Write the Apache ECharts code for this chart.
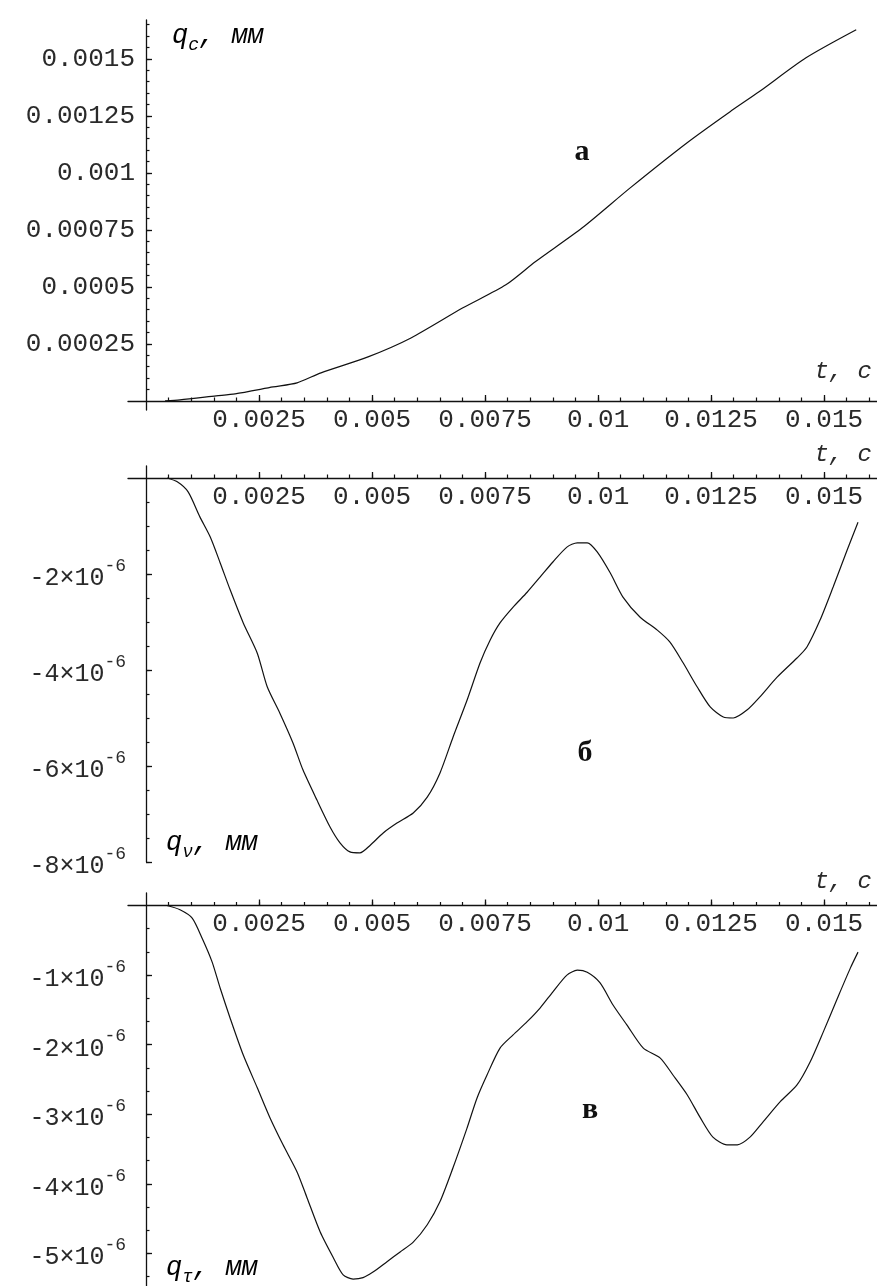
<!DOCTYPE html>
<html><head><meta charset="utf-8">
<script src="https://cdn.jsdelivr.net/npm/echarts@6/dist/echarts.min.js"></script>
<style>html,body{margin:0;padding:0;background:#fff}#c{width:877px;height:1286px}</style>
</head><body><div id="c"></div>
<script>
// ---- data: panel а (q_c, mm) ----
const tA = [0.00042,0.00075,0.00155,0.00197,0.00281,0.00334,0.00387,0.00491,0.00586,0.00701,0.00796,0.00861,0.00965,0.01071,0.01197,0.01292,0.01356,0.0146,0.01571];
const qc = [0,0.0000044,0.000022,0.000031,0.000061,0.000079,0.000123,0.000193,0.000276,0.000408,0.000509,0.000610,0.000759,0.000934,0.001132,0.001268,0.001355,0.001504,0.001627];
// ---- data: panel б (q_nu, mm) ----
const tB = [0.00046,0.00069,0.00093,0.00119,0.00142,0.00164,0.00186,0.00215,0.00246,0.00268,0.00296,0.00325,0.00347,0.00378,0.00407,0.00429,0.00451,0.00473,0.00496,0.00524,0.00555,0.00591,0.00622,0.00650,0.00679,0.00710,0.00739,0.00761,0.00783,0.00812,0.00843,0.00872,0.00900,0.00931,0.00954,0.00976,0.00998,0.01027,0.01055,0.01093,0.01131,0.01159,0.01188,0.01219,0.01248,0.01277,0.01299,0.01330,0.01358,0.01396,0.01440,0.01462,0.01491,0.01520,0.01551,0.01575];
const qv = [0,-0.08e-6,-0.29e-6,-0.81e-6,-1.23e-6,-1.77e-6,-2.33e-6,-3.02e-6,-3.65e-6,-4.35e-6,-4.90e-6,-5.52e-6,-6.08e-6,-6.71e-6,-7.27e-6,-7.60e-6,-7.79e-6,-7.81e-6,-7.65e-6,-7.40e-6,-7.19e-6,-6.98e-6,-6.65e-6,-6.15e-6,-5.40e-6,-4.63e-6,-3.85e-6,-3.38e-6,-3.02e-6,-2.69e-6,-2.38e-6,-2.06e-6,-1.75e-6,-1.44e-6,-1.35e-6,-1.35e-6,-1.54e-6,-1.98e-6,-2.48e-6,-2.90e-6,-3.17e-6,-3.42e-6,-3.85e-6,-4.35e-6,-4.77e-6,-4.98e-6,-5.00e-6,-4.83e-6,-4.56e-6,-4.15e-6,-3.75e-6,-3.52e-6,-2.96e-6,-2.27e-6,-1.50e-6,-0.92e-6];
// ---- data: panel в (q_tau, mm) ----
const tC = [0.00046,0.00075,0.00102,0.00124,0.00146,0.00164,0.00186,0.00215,0.00246,0.00274,0.00303,0.00334,0.00356,0.00385,0.00414,0.00436,0.00458,0.00480,0.00502,0.00533,0.00562,0.00591,0.00622,0.00650,0.00679,0.00710,0.00732,0.00754,0.00783,0.00812,0.00843,0.00872,0.00900,0.00931,0.00954,0.00976,0.01004,0.01033,0.01064,0.01100,0.01137,0.01166,0.01197,0.01226,0.01254,0.01285,0.01308,0.01336,0.01365,0.01403,0.01440,0.01469,0.01498,0.01529,0.01558,0.01575];
const qt = [0,-0.06e-6,-0.18e-6,-0.47e-6,-0.81e-6,-1.19e-6,-1.62e-6,-2.15e-6,-2.62e-6,-3.05e-6,-3.44e-6,-3.83e-6,-4.20e-6,-4.69e-6,-5.06e-6,-5.31e-6,-5.37e-6,-5.35e-6,-5.27e-6,-5.12e-6,-4.98e-6,-4.84e-6,-4.59e-6,-4.26e-6,-3.77e-6,-3.20e-6,-2.77e-6,-2.44e-6,-2.05e-6,-1.86e-6,-1.67e-6,-1.47e-6,-1.24e-6,-1.00e-6,-0.93e-6,-0.96e-6,-1.11e-6,-1.43e-6,-1.72e-6,-2.05e-6,-2.19e-6,-2.44e-6,-2.72e-6,-3.05e-6,-3.33e-6,-3.44e-6,-3.44e-6,-3.33e-6,-3.11e-6,-2.82e-6,-2.58e-6,-2.25e-6,-1.82e-6,-1.34e-6,-0.90e-6,-0.67e-6];

// ---- tick labels ----
const xTickVals = [0.0025,0.005,0.0075,0.01,0.0125,0.015];
const xTickLabels = ['0.0025','0.005','0.0075','0.01','0.0125','0.015'];
const yTickValsA = [0.00025,0.0005,0.00075,0.001,0.00125,0.0015];
const yTickLabelsA = ['0.00025','0.0005','0.00075','0.001','0.00125','0.0015'];
const yTickValsB = [-2e-6,-4e-6,-6e-6,-8e-6];
const yTickMantB = ['-2','-4','-6','-8'];
const yTickValsC = [-1e-6,-2e-6,-3e-6,-4e-6,-5e-6];
const yTickMantC = ['-1','-2','-3','-4','-5'];

// minor tick positions
const xMinor = []; for (let i = 1; i <= 32; i++) xMinor.push(i * 0.0005);
const yMinorA = []; for (let i = 1; i <= 33; i++) yMinorA.push(i * 0.00005);
const yMinorB = []; for (let i = 1; i <= 16; i++) yMinorB.push(-i * 0.5e-6);
const yMinorC = []; for (let i = 1; i <= 16; i++) yMinorC.push(-i * 1e-6 / 3);

const INK = '#111', TXT = '#2a2a2a', MONO = 'Liberation Mono';
function pick(vals, labels) {
  return function (v) {
    for (let i = 0; i < vals.length; i++) if (Math.abs(vals[i] - v) < Math.abs(vals[i]) * 1e-6 + 1e-15) return labels[i];
    return '';
  };
}

const grids = [
  {left: 128, top: 20, width: 749, height: 390},
  {left: 128, top: 466, width: 749, height: 396},
  {left: 128, top: 893, width: 749, height: 393}
];
const yRanges = [[-0.00004, 0.00167], [-8e-6, 0.25e-6], [-5.47e-6, 0.18e-6]];
const xRange = [-0.0004, 0.01617];
// axis placement (where t=0 / q=0 falls inside each grid)
const xPos = ['bottom', 'top', 'top'];
const xOffset = [-9, -12, -12.5];
const yOffset = -18;

const xAxes = [], yAxes = [];
for (let g = 0; g < 3; g++) {
  const top = xPos[g] === 'top';
  xAxes.push({
    type: 'value', gridIndex: g, position: xPos[g], offset: xOffset[g], min: xRange[0], max: xRange[1],
    axisLine: {show: true, onZero: false, lineStyle: {color: INK, width: 1.3}},
    axisTick: {show: true, inside: !top, length: 6, customValues: xTickVals, lineStyle: {color: INK, width: 1.3}},
    axisLabel: {show: true, inside: top, customValues: xTickVals, margin: 6, formatter: pick(xTickVals, xTickLabels),
      fontFamily: MONO, fontSize: 26, color: TXT},
    splitLine: {show: false}
  });
  xAxes.push({
    type: 'value', gridIndex: g, position: xPos[g], offset: xOffset[g], min: xRange[0], max: xRange[1],
    axisLine: {show: false, onZero: false},
    axisTick: {show: true, inside: !top, length: 3.5, customValues: xMinor, lineStyle: {color: INK, width: 1.2}},
    axisLabel: {show: false}, splitLine: {show: false}
  });
}
// y axes
const yMinors = [yMinorA, yMinorB, yMinorC];
const richLab = {
  m: {fontFamily: MONO, fontSize: 25, color: TXT, verticalAlign: 'bottom'},
  e: {fontFamily: MONO, fontSize: 18, color: TXT, verticalAlign: 'bottom', padding: [0, 0, 16, 0]}
};
const yLabelCfg = [
  {customValues: yTickValsA, margin: 11, formatter: pick(yTickValsA, yTickLabelsA), fontFamily: MONO, fontSize: 26, color: TXT},
  {customValues: yTickValsB, margin: 20, formatter: function (v) { return '{m|' + pick(yTickValsB, yTickMantB)(v) + '×10}{e|-6}'; }, rich: richLab},
  {customValues: yTickValsC, margin: 20, formatter: function (v) { return '{m|' + pick(yTickValsC, yTickMantC)(v) + '×10}{e|-6}'; }, rich: richLab}
];
const yMajorVals = [yTickValsA, yTickValsB, yTickValsC];
for (let g = 0; g < 3; g++) {
  yAxes.push({
    type: 'value', gridIndex: g, position: 'left', offset: yOffset, min: yRanges[g][0], max: yRanges[g][1],
    axisLine: {show: true, onZero: false, lineStyle: {color: INK, width: 1.3}},
    axisTick: {show: true, inside: true, length: 6, customValues: yMajorVals[g], lineStyle: {color: INK, width: 1.3}},
    axisLabel: Object.assign({show: true}, yLabelCfg[g]),
    splitLine: {show: false}
  });
  yAxes.push({
    type: 'value', gridIndex: g, position: 'left', offset: yOffset, min: yRanges[g][0], max: yRanges[g][1],
    axisLine: {show: false, onZero: false},
    axisTick: {show: true, inside: true, length: 3.5, customValues: yMinors[g], lineStyle: {color: INK, width: 1.2}},
    axisLabel: {show: false}, splitLine: {show: false}
  });
}

function mkSeries(g, ts, vs) {
  return {
    type: 'line', xAxisIndex: 2 * g, yAxisIndex: 2 * g,
    data: ts.map(function (t, i) { return [t, vs[i]]; }),
    symbol: 'none', smooth: 0.25, lineStyle: {color: INK, width: 1.2}, animation: false
  };
}

const itStyle = {fontFamily: MONO, fontStyle: 'italic', fontSize: 27, color: TXT};
const subStyle = {fontFamily: MONO, fontStyle: 'italic', fontSize: 18, color: TXT};
function qLabel(sub, x, y) {
  return {
    type: 'text', x: x, y: y,
    style: {
      text: '{q|q}{s|' + sub + '}{q|, мм}', verticalAlign: 'middle', align: 'left',
      rich: {
        q: Object.assign({verticalAlign: 'bottom', padding: [0, 0, 5, 0]}, itStyle),
        s: Object.assign({verticalAlign: 'bottom'}, subStyle)
      }
    }
  };
}
function tLabel(y) {
  return {type: 'text', x: 872, y: y, style: {text: 't, c', align: 'right', verticalAlign: 'middle',
    font: 'italic 24px "Liberation Mono"', fill: TXT}};
}
function letter(ch, x, y) {
  return {type: 'text', x: x, y: y, style: {text: ch, align: 'center', verticalAlign: 'middle',
    font: 'bold 30px "Liberation Serif"', fill: '#111'}};
}

const option = {
  animation: false,
  backgroundColor: '#fff',
  grid: grids,
  xAxis: xAxes,
  yAxis: yAxes,
  series: [mkSeries(0, tA, qc), mkSeries(1, tB, qv), mkSeries(2, tC, qt)],
  graphic: [
    qLabel('c', 172, 38), qLabel('ν', 166, 845), qLabel('τ', 166, 1270),
    tLabel(372), tLabel(455), tLabel(882),
    letter('а', 582, 152), letter('б', 585, 753), letter('в', 590, 1110)
  ]
};
const chart = echarts.init(document.getElementById('c'), null, {renderer: 'canvas'});
chart.setOption(option);
</script></body></html>
